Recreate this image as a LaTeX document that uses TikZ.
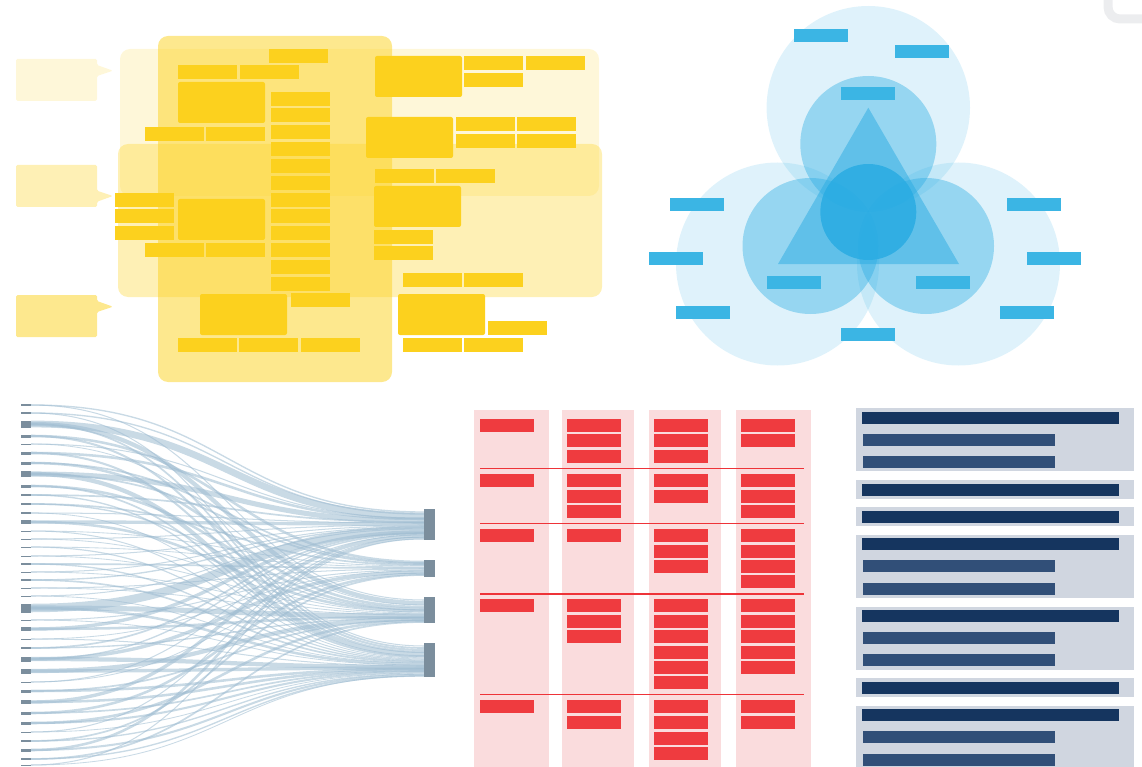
\documentclass[tikz,border=0pt]{standalone}
\definecolor{ybase}{HTML}{FCD11E}
\definecolor{cbase}{HTML}{29ABE2}
\definecolor{clabel}{HTML}{3BB5E4}
\definecolor{snode}{HTML}{7B8E9D}
\definecolor{slink}{HTML}{9DBBD0}
\definecolor{rpink}{HTML}{FADCDD}
\definecolor{rbox}{HTML}{EF3B3F}
\definecolor{rline}{HTML}{EE3338}
\definecolor{npanel}{HTML}{D0D6E0}
\definecolor{ndark}{HTML}{15355F}
\definecolor{nmid}{HTML}{314F78}
\definecolor{cornergray}{HTML}{ECEDEF}
\begin{document}
\begin{tikzpicture}[x=1pt,y=-1pt,
  ysmall/.style={fill=ybase},
  ybig/.style={fill=ybase,rounded corners=2pt},
  ypanel/.style={fill=ybase,rounded corners=10pt},
  bluelabel/.style={fill=clabel},
  linkline/.style={draw=slink,draw opacity=0.55,line cap=butt},
  redcol/.style={fill=rpink},
  redbox/.style={fill=rbox},
  redsep/.style={draw=rline,line width=1.5pt},
  navypanel/.style={fill=npanel},
  navydark/.style={fill=ndark},
  navymid/.style={fill=nmid}]
\useasboundingbox (0,0) rectangle (1142,767);

% ---------- yellow swimlane block ----------
\fill[ypanel,fill opacity=0.17] (120,49) rectangle (599,196);
\fill[ypanel,fill opacity=0.33] (118,144) rectangle (602,297);
\fill[ypanel,fill opacity=0.5] (158,36) rectangle (392,382);

% callouts on the left
\fill[ybase,fill opacity=0.17,rounded corners=1.5pt]
  (16,59) -- (97,59) -- (97,65) -- (113,70.7) -- (97,76) -- (97,101) -- (16,101) -- cycle;
\fill[ybase,fill opacity=0.33,rounded corners=1.5pt]
  (16,165) -- (97,165) -- (97,190.7) -- (113,196) -- (97,201.7) -- (97,207) -- (16,207) -- cycle;
\fill[ybase,fill opacity=0.5,rounded corners=1.5pt]
  (16,295) -- (97,295) -- (97,301) -- (113,306.7) -- (97,312) -- (97,337) -- (16,337) -- cycle;

% small boxes
\foreach \x/\y in {269/49,178/65,240/65,145/127,206/127,115/193,115/209,115/226,
  145/243,206/243,291/293,178/338,239/338,301/338,
  464/56,526/56,464/73,456/117,517/117,456/134,517/134,375/169,436/169,
  374/230,374/246,403/273,464/273,488/321,403/338,464/338}
  \fill[ysmall] (\x,\y) rectangle ++(59,14);
\foreach \y in {92,108,125,142,159,176,193,209,226,243,260,277}
  \fill[ysmall] (271,\y) rectangle ++(59,14);
% large boxes
\foreach \x/\y in {178/82,178/199,200/294,375/56,366/117,374/186,398/294}
  \fill[ybig] (\x,\y) rectangle ++(87,41);

% ---------- blue circles ----------
\fill[cbase,fill opacity=0.15] (868.3,107.7) circle[radius=101.7pt];
\fill[cbase,fill opacity=0.15] (777.5,264) circle[radius=101.5pt];
\fill[cbase,fill opacity=0.15] (958.5,264) circle[radius=101.5pt];
\fill[cbase,fill opacity=0.4] (868.3,144) circle[radius=68pt];
\fill[cbase,fill opacity=0.4] (810.5,246) circle[radius=68pt];
\fill[cbase,fill opacity=0.4] (926,246) circle[radius=68pt];
\fill[cbase,fill opacity=0.5] (868.3,107.7) -- (959,264) -- (778,264) -- cycle;
\fill[cbase,fill opacity=0.85] (868.3,212) circle[radius=48pt];
\foreach \x/\y in {794/29,895/45,841/87,670/198,649/252,676/306,767/276,916/276,
  841/328,1007/198,1027/252,1000/306}
  \fill[bluelabel] (\x,\y) rectangle ++(54,13);

% corner mark
\draw[cornergray,line width=9pt,rounded corners=12pt] (1108,-6) -- (1108,19) -- (1150,19);

% ---------- sankey ----------
\foreach \yl/\yr/\w in {405/512/0.8,405/600/0.6,413/514/0.8,413/646/0.6,
  424/516/4,424/603/2.5,424/648/1,436/562/1.5,436/650/1.2,444/518/0.6,444/605/0.5,
  453/519/1.5,453/652/1.2,463/607/1.5,463/563/1,474/521/3,474/654/2.5,474/564/1,
  486/609/1.5,486/656/1,495/522/1,495/657/0.8,504/565/1,504/610/0.8,
  513/523/0.6,513/658/0.5,522/524/2,522/611/1.5,531/659/0.6,531/566/0.5,
  539/525/0.6,539/612/0.5,547/660/0.7,547/567/0.5,556/526/0.6,556/613/0.5,
  564/568/1,564/661/0.8,572/527/0.6,572/614/0.5,580/662/1,580/528/0.8,
  588/569/0.6,588/615/0.5,596/529/0.6,596/663/0.5,608/530/5,608/616/3,608/664/1.5,
  620/570/0.6,620/665/0.5,629/532/2,629/617/1.5,639/666/0.6,639/571/0.5,
  648/533/1,648/618/0.8,659/572/2,659/667/2.5,659/534/0.8,671/619/2.5,671/668/2,
  682/535/0.6,682/573/0.5,691/669/1.5,691/620/1,702/536/2,702/670/1.5,
  713/574/1.5,713/671/1,723/621/1.5,723/672/1.2,732/537/0.6,732/673/0.5,
  741/575/1,741/674/0.8,750/538/1.5,750/675/1.2,759/622/1,759/676/0.8,
  765/539/0.6,765/676/0.5}
  \draw[linkline,line width={1.7*\w pt}] (31,\yl) .. controls (228,\yl) and (228,\yr) .. (424,\yr);
\foreach \y/\t in {405/1.5,413/1.5,424/7,436/3,444/1,453/3,463/3,474/6,486/3,495/2,
  504/2,513/1.2,522/4,531/1,539/1,547/1,556/1,564/2,572/1,580/2,588/1,596/1,608/9,
  620/1,629/4,639/1,648/2,659/5,671/5,682/1,691/3,702/4,713/3,723/3,732/1,741/2,
  750/3,759/2,765/1}
  \fill[snode] (21,\y-\t/2) rectangle (31,\y+\t/2);
\foreach \a/\b in {509/540,560/577,597/623,643/677}
  \fill[snode] (424,\a) rectangle (435,\b);

% ---------- red kanban ----------
\foreach \x/\w in {474/75,562/72,649/72,736/75}
  \fill[redcol] (\x,410) rectangle ++(\w,357);
\foreach \y in {419,474,529,599,700}
  \fill[redbox] (480,\y) rectangle ++(54,13);
\foreach \y in {419,434,450,474,490,505,529,599,615,630,700,716}
  \fill[redbox] (567,\y) rectangle ++(54,13);
\foreach \y in {419,434,450,474,490,529,545,560,599,615,630,646,661,676,700,716,732,747}
  \fill[redbox] (654,\y) rectangle ++(54,13);
\foreach \y in {419,434,474,490,505,529,545,560,575,599,615,630,646,661,700,716}
  \fill[redbox] (741,\y) rectangle ++(54,13);
\foreach \y in {468.3,523.7,694.7}
  \draw[redsep] (480,\y) -- (804,\y);
\draw[redsep,line width=2pt] (480,593.7) -- (804,593.7);

% ---------- navy list ----------
\foreach \a/\b in {408/471,480/499,507/526,535/598,607/670,678/697,706/767}
  \fill[navypanel] (856,\a) rectangle (1134,\b);
\foreach \y in {412,484,511,538,610,682,709}
  \fill[navydark] (862,\y) rectangle ++(257,12);
\foreach \y in {434,456,560,583,632,654,731,754}
  \fill[navymid] (863,\y) rectangle ++(192,12);
\end{tikzpicture}
\end{document}
